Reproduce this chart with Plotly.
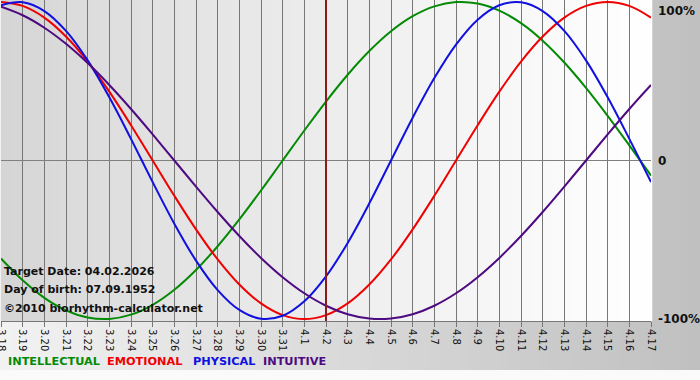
import plotly.graph_objects as go

# ---- data ----
dates = ["3.18", "3.19", "3.20", "3.21", "3.22", "3.23", "3.24", "3.25", "3.26", "3.27",
         "3.28", "3.29", "3.30", "3.31", "4.1", "4.2", "4.3", "4.4", "4.5", "4.6",
         "4.7", "4.8", "4.9", "4.10", "4.11", "4.12", "4.13", "4.14", "4.15", "4.16", "4.17"]

intellectual = [-0.6182, -0.7557, -0.8660, -0.9450, -0.9898, -0.9989, -0.9718, -0.9096, -0.8146, -0.6900,
                -0.5406, -0.3717, -0.1893, 0.0, 0.1893, 0.3717, 0.5406, 0.6900, 0.8146, 0.9096,
                0.9718, 0.9989, 0.9898, 0.9450, 0.8660, 0.7557, 0.6182, 0.4582, 0.2817, 0.0951, -0.0951]
emotional = [1.0, 0.9749, 0.9010, 0.7818, 0.6235, 0.4339, 0.2225, 0.0, -0.2225, -0.4339,
             -0.6235, -0.7818, -0.9010, -0.9749, -1.0, -0.9749, -0.9010, -0.7818, -0.6235, -0.4339,
             -0.2225, 0.0, 0.2225, 0.4339, 0.6235, 0.7818, 0.9010, 0.9749, 1.0, 0.9749, 0.9010]
physical = [0.9791, 0.9977, 0.9423, 0.8170, 0.6311, 0.3984, 0.1362, -0.1362, -0.3984, -0.6311,
            -0.8170, -0.9423, -0.9977, -0.9791, -0.8879, -0.7308, -0.5196, -0.2698, 0.0, 0.2698,
            0.5196, 0.7308, 0.8879, 0.9791, 0.9977, 0.9423, 0.8170, 0.6311, 0.3984, 0.1362, -0.1362]
intuitive = [0.9694, 0.9158, 0.8372, 0.7357, 0.6142, 0.4759, 0.3247, 0.1646, 0.0, -0.1646,
             -0.3247, -0.4759, -0.6142, -0.7357, -0.8372, -0.9158, -0.9694, -0.9966, -0.9966, -0.9694,
             -0.9158, -0.8372, -0.7357, -0.6142, -0.4759, -0.3247, -0.1646, 0.0, 0.1646, 0.3247, 0.4759]

series_names = ["INTELLECTUAL", "EMOTIONAL", "PHYSICAL", "INTUITIVE"]
series_values = [intellectual, emotional, physical, intuitive]
series_colors = ["#058a05", "#f00000", "#1010e0", "#4e0a80"]

target_label = "4.2"
info_lines = ["Target Date: 04.02.2026", "Day of birth: 07.09.1952", "\u00a92010 biorhythm-calculator.net"]
y_labels = ["100%", "0", "-100%"]
y_label_vals = [1, 0, -1]

# ---- layout geometry ----
W, H = 700, 380
ML, MR, MT, MB = 1, 49, 0, 59
PW = W - ML - MR
PH = H - MT - MB
FONT = "DejaVu Sans"
YR = 1.012

def px(xp):
    return (xp - ML) / PW

def py(yp):
    return (H - MB - yp) / PH

fig = go.Figure()
xs = list(range(len(dates)))
for name, vals, col in zip(series_names, series_values, series_colors):
    fig.add_trace(go.Scatter(x=xs, y=vals, mode="lines", name=name,
                             line=dict(color=col, width=2, shape="spline", smoothing=1.0),
                             hoverinfo="skip"))

shapes = []
# outer background gradient (ends at y=370 px)
n_out = 70
for i in range(n_out):
    x0 = i * W / n_out
    x1 = (i + 1) * W / n_out
    t = (i + 0.5) / n_out
    g = int(round(242 - (242 - 192) * t))
    shapes.append(dict(type="rect", xref="paper", yref="paper", x0=px(x0 - 0.5), x1=px(x1 + 0.5),
                       y0=py(370), y1=py(-1), fillcolor=f"rgb({g},{g},{g})",
                       line=dict(width=0), layer="below"))
# plot area gradient
n_in = 65
for i in range(n_in):
    t0 = i / n_in
    t1 = (i + 1) / n_in
    t = (i + 0.5) / n_in
    g = int(round(212 + (255 - 212) * (t ** 0.8)))
    g = min(g, 254)
    shapes.append(dict(type="rect", xref="paper", yref="paper", x0=t0, x1=t1 + 0.002,
                       y0=0, y1=1, fillcolor=f"rgb({g},{g},{g})",
                       line=dict(width=0), layer="below"))
# target date marker
shapes.append(dict(type="line", xref="x", yref="paper", x0=dates.index(target_label),
                   x1=dates.index(target_label), y0=0, y1=1,
                   line=dict(color="#8a1c1c", width=2), layer="above"))

annotations = []
for i, txt in enumerate(info_lines):
    annotations.append(dict(text="<b>" + txt + "</b>", xref="paper", yref="paper",
                            x=px(2), y=py([271, 289, 308][i]), xanchor="left", yanchor="middle",
                            showarrow=False, font=dict(family=FONT, size=11, color="#111111")))
for lab, v in zip(y_labels, y_label_vals):
    annotations.append(dict(text="<b>" + lab + "</b>", xref="paper", yref="y",
                            x=px(656), y=v, xanchor="left", yanchor="middle",
                            yshift=-9 if v == 1 else 0,
                            showarrow=False, font=dict(family=FONT, size=12, color="#111111")))
leg_x = [6, 105, 191, 261]
for name, col, lx in zip(series_names, series_colors, leg_x):
    annotations.append(dict(text="<b>" + name + "</b>", xref="paper", yref="paper",
                            x=px(lx), y=py(362), xanchor="left", yanchor="middle",
                            showarrow=False, font=dict(family=FONT, size=11.3, color=col)))

fig.update_layout(
    width=W, height=H,
    margin=dict(l=ML, r=MR, t=MT, b=MB, pad=0, autoexpand=False),
    paper_bgcolor="#fafafa",
    plot_bgcolor="rgba(0,0,0,0)",
    showlegend=False,
    shapes=shapes,
    annotations=annotations,
    xaxis=dict(range=[0, len(dates) - 1], tickmode="array", tickvals=xs, ticktext=dates,
               tickangle=90, ticks="outside", ticklen=5, tickcolor="#777777",
               tickfont=dict(family=FONT, size=10, color="#111111"),
               ticklabeloverflow="allow", automargin=False,
               showgrid=True, gridcolor="#777777", gridwidth=1,
               showline=True, linecolor="#777777", linewidth=1,
               zeroline=False, fixedrange=True),
    yaxis=dict(range=[-YR, YR], showticklabels=False, showgrid=False,
               zeroline=True, zerolinecolor="#808080", zerolinewidth=1,
               showline=False, fixedrange=True, automargin=False),
)

fig.write_html("out.html", config={"displayModeBar": False},
               post_script="document.body.style.margin='0';document.body.style.padding='0';")
